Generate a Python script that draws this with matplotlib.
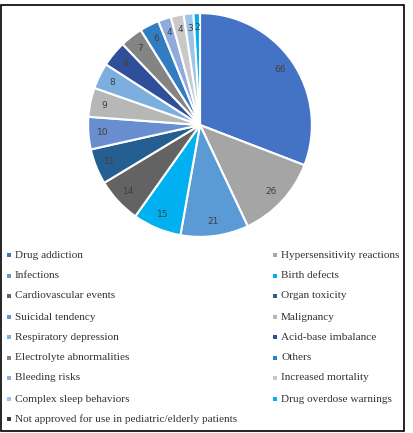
import matplotlib.pyplot as plt
from matplotlib.patches import Rectangle
import numpy as np

categories = ["Drug addiction", "Hypersensitivity reactions", "Infections", "Birth defects",
              "Cardiovascular events", "Organ toxicity", "Suicidal tendency", "Malignancy",
              "Respiratory depression", "Acid-base imbalance", "Electrolyte abnormalities",
              "Others", "Bleeding risks", "Increased mortality", "Complex sleep behaviors",
              "Drug overdose warnings", "Not approved for use in pediatric/elderly patients"]
counts = [66, 26, 21, 15, 14, 11, 10, 9, 8, 8, 7, 6, 4, 4, 3, 2, 0]
colors = ["#4472C4", "#A5A5A5", "#5B9BD5", "#00B0F0", "#636363", "#255E91", "#698ED0",
          "#B7B7B7", "#7CAFDD", "#2F4F9B", "#848484", "#327DC2", "#8FAADC", "#C9C9C9",
          "#9DC3E6", "#00B0F0", "#3B3B3B"]

W, H = 413, 433
fig = plt.figure(figsize=(W / 100, H / 100), dpi=100)

# outer frame
fig.patches.append(Rectangle((1 / W, 1 - 431 / H), 403 / W, 426 / H, transform=fig.transFigure,
                             fill=False, edgecolor="black", linewidth=1.2))

cx, cy, r = 200, 125, 113
ax = fig.add_axes([(cx - r) / W, (H - cy - r) / H, 2 * r / W, 2 * r / H])
wedges, _ = ax.pie(counts, colors=colors, startangle=90, counterclock=False,
                   wedgeprops=dict(edgecolor="white", linewidth=1.5))
ax.set_xlim(-1.01, 1.01)
ax.set_ylim(-1.01, 1.01)
ax.set_aspect("equal")
ax.axis("off")

total = sum(counts)
start = 90.0
for v in counts:
    if v > 0:
        mid = np.deg2rad(start - 360.0 * v / total / 2)
        ax.text(0.87 * np.cos(mid), 0.87 * np.sin(mid), str(v), ha="center", va="center",
                fontsize=6.5, color="#404040")
    start -= 360.0 * v / total

# legend, row by row in two columns
rows_y = [255, 276, 296, 317, 337, 358, 378, 399, 419]
for i, (name, col) in enumerate(zip(categories, colors)):
    row, c = divmod(i, 2)
    mx = 7 if c == 0 else 273
    y = rows_y[row]
    fig.patches.append(Rectangle((mx / W, 1 - (y + 2) / H), 4 / W, 4 / H,
                                 transform=fig.transFigure, facecolor=col, edgecolor="none"))
    fig.text((mx + 8) / W, 1 - y / H, name, ha="left", va="center", fontsize=8.1,
             family="Liberation Serif", color="#333333")

fig.savefig("out.png", dpi=100)
